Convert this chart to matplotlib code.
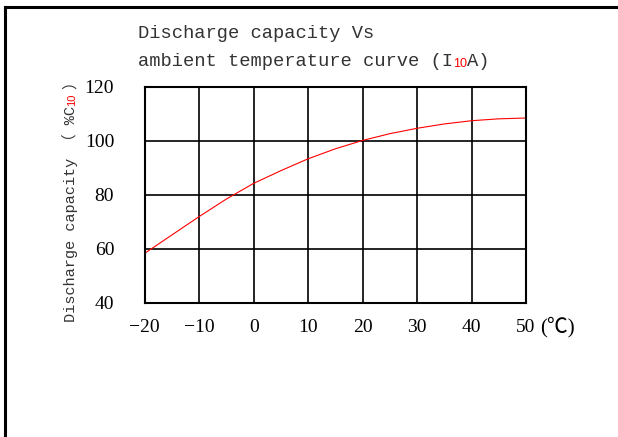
import matplotlib
matplotlib.use("Agg")
import matplotlib.pyplot as plt

temps = [-20, -15, -10, -5, 0, 5, 10, 15, 20, 25, 30, 35, 40, 45, 50]
capacity = [58.3, 65.1, 71.9, 78.4, 84.2, 88.9, 93.3, 97.0, 100.1, 102.6, 104.6, 106.2, 107.4, 108.1, 108.4]
xticks = [-20, -10, 0, 10, 20, 30, 40, 50]
yticks = [40, 60, 80, 100, 120]
xtick_labels = ["\u221220", "\u221210", "0", "10", "20", "30", "40", "50"]

mono = ["Liberation Mono", "Noto Sans CJK SC", "DejaVu Sans"]
serif = ["Liberation Serif", "Noto Sans CJK SC", "DejaVu Sans"]
cjk = ["Noto Sans CJK SC", "DejaVu Sans"]
narrow = ["Liberation Sans Narrow", "Liberation Sans"]

W, H = 618, 437
fig = plt.figure(figsize=(W / 100, H / 100), dpi=100)
fig.patch.set_facecolor("white")

# frame lines (top and left)
fig.add_artist(plt.Line2D([5 / W, 1.0], [1 - 6.5 / H, 1 - 6.5 / H], color="black", lw=2.2))
fig.add_artist(plt.Line2D([5 / W, 5 / W], [0, 1 - 6.5 / H], color="black", lw=2.2))

ax = fig.add_axes([144.7 / W, 1 - 302.7 / H, (526 - 144.7) / W, (302.7 - 86.7) / H])
ax.plot(temps, capacity, color="red", lw=0.8)
ax.set_xlim(-20, 50)
ax.set_ylim(40, 120)
ax.set_xticks(xticks)
ax.set_xticklabels(xtick_labels, family=serif, fontsize=14)
ax.set_yticks(yticks)
ax.set_yticklabels([str(v) for v in yticks], family=serif, fontsize=14)
ax.tick_params(length=0)
ax.tick_params(axis="x", pad=12)
ax.tick_params(axis="y", pad=22)
ax.grid(True, color="black", lw=1.2)
for s in ax.spines.values():
    s.set_linewidth(1.5)
    s.set_color("black")

# unit label after x ticks
fig.text(540 / W, 1 - 327 / H, "(℃)", family=serif,
         fontsize=15, va="center", ha="left")

# title
tcol = "#333333"
fig.text(138 / W, 1 - 37.5 / H, "Discharge capacity Vs", family=mono, fontsize=13.5,
         color=tcol, va="baseline", ha="left")
t1 = fig.text(138 / W, 1 - 66 / H, "ambient temperature curve (I", family=mono, fontsize=13.5,
              color=tcol, va="baseline", ha="left")
sub = ax.annotate("10", xy=(1, 0), xycoords=t1, xytext=(0, 0), textcoords="offset points",
                  family=narrow, fontsize=9, color="red",
                  va="bottom", ha="left", annotation_clip=False)
ax.annotate("A)", xy=(1, 0), xycoords=(sub, t1), xytext=(0, 0), textcoords="offset points",
            family=mono, fontsize=13.5, color=tcol, va="bottom", ha="left", annotation_clip=False)

# y label
yl = fig.text(62 / W, 1 - 322 / H, "Discharge capacity （ %C", family=mono, fontsize=11,
              color=tcol, rotation=90, va="bottom", ha="left")
ysub = ax.annotate("10", xy=(1, 1), xycoords=yl, xytext=(-1, 0), textcoords="offset points",
                   family=narrow, fontsize=8, color="red",
                   rotation=90, va="bottom", ha="right", annotation_clip=False)
ax.annotate("）", xy=(0, 1), xycoords=yl, xytext=(0, 12), textcoords="offset points",
            family=cjk, fontsize=11, color=tcol,
            rotation=90, va="bottom", ha="left", annotation_clip=False)

fig.savefig("out.png", dpi=100, facecolor="white")
